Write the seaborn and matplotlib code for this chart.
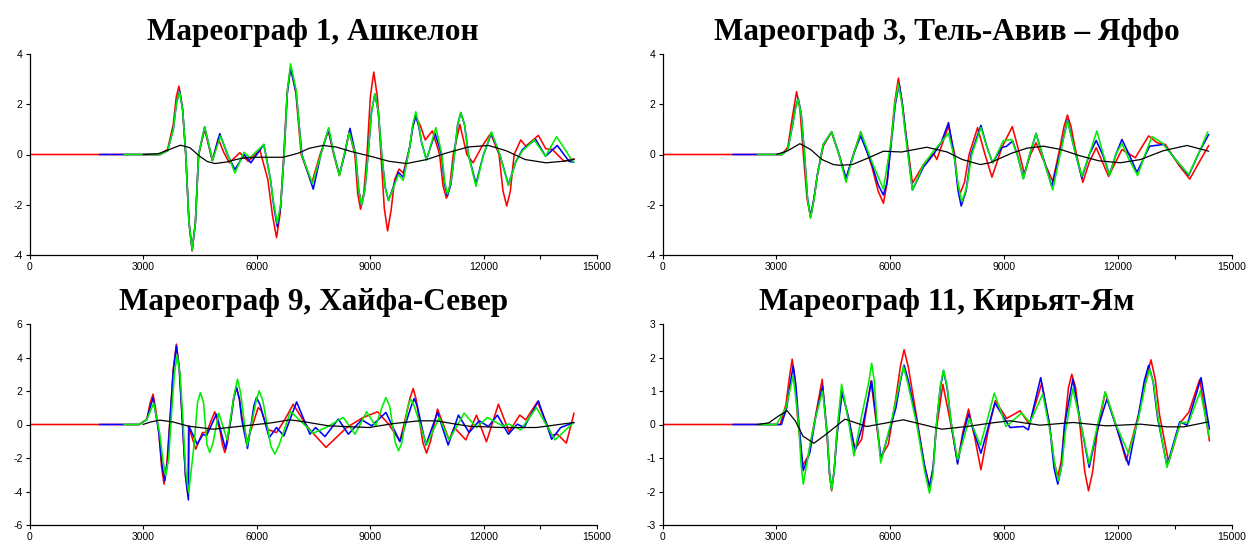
import matplotlib
matplotlib.use("Agg")
import matplotlib.pyplot as plt
import pandas as pd
import seaborn as sns
from matplotlib.ticker import MultipleLocator, FixedLocator

# ---------------------------------------------------------------------------
# Tide-gauge records: (time, s ; sea level, m) for each model run
# ---------------------------------------------------------------------------
TITLES = ["Мареограф 1, Ашкелон", "Мареограф 3, Тель-Авив – Яффо",
          "Мареограф 9, Хайфа-Север", "Мареограф 11, Кирьят-Ям"]
Y_LIMITS = [4, 4, 6, 3]
Y_STEPS = [2, 2, 2, 1]
X_TICKS = [0, 3000, 6000, 9000, 12000, 15000]
SERIES_COLORS = ["#ff0000", "#0000ff", "#00ee00", "#000000"]

# --- Ashkelon ---
ash_red = [(0, 0), (3450, 0), (3650, 0.2), (3800, 1.2), (3880, 2.3), (3950, 2.72), (4040, 1.9), (4130, 0),
           (4215, -2.7), (4300, -3.84), (4385, -2.7), (4470, 0),
           (4630, 1.0), (4830, -0.24), (4990, 0.63), (5130, 0.1), (5280, -0.33), (5560, 0.07), (5780, -0.27),
           (6090, 0.17), (6300, -1.0), (6420, -2.4), (6530, -3.31), (6625, -2.35), (6720, 0), (6810, 2.45),
           (6900, 3.48), (7040, 2.45), (7180, 0), (7460, -1.14),
           (7680, 0), (7900, 0.94), (8040, 0), (8190, -0.84), (8320, 0), (8450, 0.90), (8600, 0),
           (8675, -1.55), (8750, -2.18), (8835, -1.55),
           (8920, 0), (9010, 2.3), (9100, 3.28), (9195, 2.3), (9290, 0), (9378, -2.15), (9465, -3.04),
           (9560, -2.2), (9650, -1.0), (9770, -0.58), (9880, -0.74),
           (10050, 0.3), (10130, 1.1), (10210, 1.51), (10330, 1.15), (10460, 0.58), (10650, 0.94), (10840, 0),
           (10930, -1.25), (11020, -1.74), (11110, -1.25), (11200, 0),
           (11375, 1.20), (11560, 0), (11725, -0.33), (11950, 0.3), (12190, 0.84), (12410, 0),
           (12515, -1.45), (12615, -2.05), (12710, -1.45),
           (12810, 0), (12985, 0.58), (13115, 0.33), (13450, 0.76), (13645, 0.23), (13820, 0.2),
           (14130, -0.27), (14390, -0.17)]
ash_blue = [(1850, 0), (3450, 0), (3650, 0.15), (3800, 1.0), (3890, 2.1), (3970, 2.52), (4050, 1.75), (4130, 0),
            (4215, -2.7), (4300, -3.8), (4385, -2.7), (4470, 0),
            (4630, 1.1), (4836, -0.24), (5030, 0.83), (5230, 0), (5430, -0.60), (5670, 0.0), (5850, -0.33),
            (6195, 0.40), (6370, -1.0), (6460, -2.1), (6550, -2.88), (6640, -2.05), (6730, 0), (6815, 2.45),
            (6900, 3.44), (7050, 2.45), (7200, 0), (7500, -1.38),
            (7700, 0), (7900, 1.0), (8050, 0), (8190, -0.80), (8330, 0), (8470, 1.04), (8620, 0),
            (8700, -1.4), (8780, -2.0), (8865, -1.4),
            (8950, 0), (9040, 1.7), (9130, 2.41), (9220, 1.7), (9310, 0), (9400, -1.3), (9490, -1.83),
            (9600, -1.35), (9750, -0.71), (9880, -0.90), (10050, 0.3), (10130, 1.1),
            (10210, 1.54), (10290, 1.1), (10360, 0.5), (10490, -0.2), (10720, 0.84), (10890, 0), (10970, -1.17),
            (11050, -1.65), (11140, -1.17), (11230, 0), (11315, 1.18),
            (11400, 1.67), (11500, 1.18), (11600, 0), (11800, -1.16), (12000, 0), (12210, 0.84), (12430, 0),
            (12660, -1.20), (12850, -0.3), (13030, 0.2), (13380, 0.60), (13640, -0.07), (13950, 0.36),
            (14260, -0.27), (14390, -0.31)]
ash_green = [(2500, 0), (3450, 0), (3650, 0.15), (3800, 1.0), (3890, 2.1), (3970, 2.48), (4050, 1.75), (4130, 0),
             (4215, -2.7), (4300, -3.8), (4385, -2.7), (4470, 0),
             (4630, 1.1), (4836, -0.24), (5050, 0.74), (5240, 0), (5430, -0.74), (5670, 0.09), (5820, -0.13),
             (6195, 0.40), (6370, -1.0), (6460, -2.0), (6550, -2.74), (6640, -1.95), (6730, 0), (6815, 2.55),
             (6900, 3.61), (7050, 2.55), (7190, 0), (7480, -1.16),
             (7700, 0), (7910, 1.07), (8050, 0), (8190, -0.84), (8320, 0), (8450, 0.87), (8620, 0),
             (8700, -1.4), (8780, -2.0), (8865, -1.4),
             (8950, 0), (9040, 1.7), (9130, 2.41), (9220, 1.7), (9310, 0), (9400, -1.3), (9490, -1.83),
             (9600, -1.4), (9750, -0.80), (9880, -1.03), (10050, 0.3), (10130, 1.2),
             (10210, 1.70), (10290, 1.2), (10360, 0.5), (10490, -0.23), (10740, 1.07), (10900, 0),
             (10975, -1.1), (11050, -1.57), (11140, -1.1), (11230, 0), (11315, 1.18),
             (11400, 1.67), (11500, 1.18), (11600, 0), (11800, -1.27), (12000, 0), (12210, 0.90), (12430, 0),
             (12660, -1.24), (12850, -0.3), (13030, 0.15), (13340, 0.58), (13640, -0.07), (13930, 0.71),
             (14200, 0.1), (14350, -0.27), (14390, -0.31)]
ash_black = [(3000, 0), (3400, 0.03), (3700, 0.2), (3990, 0.37), (4240, 0.27), (4500, -0.07), (4700, -0.28),
             (4900, -0.36), (5200, -0.3), (5600, -0.15), (6000, -0.11), (6700, -0.11), (7100, 0.05),
             (7400, 0.25), (7750, 0.36), (8100, 0.3), (8500, 0.12), (9090, -0.1), (9500, -0.27), (9970, -0.36),
             (10500, -0.2), (11000, 0.05), (11600, 0.3), (12130, 0.36), (12600, 0.15), (13100, -0.2),
             (13650, -0.33), (14100, -0.27), (14400, -0.2)]

# --- Tel Aviv - Jaffa ---
tlv_red = [(0, 0), (3150, 0), (3300, 0.3), (3420, 1.5), (3530, 2.50), (3620, 1.8), (3710, 0), (3805, -1.75),
           (3900, -2.48), (3990, -1.75), (4080, -0.8),
           (4234, 0.33), (4454, 0.90), (4650, 0), (4833, -1.0), (5030, 0), (5221, 0.90), (5520, -0.5),
           (5680, -1.45), (5820, -1.94), (5910, -1.2), (6020, 0.5), (6120, 2.1), (6216, 3.04), (6310, 2.15),
           (6400, 1.0), (6586, -1.14), (6877, -0.4), (7141, 0.04),
           (7229, -0.2), (7538, 1.14), (7700, 0), (7770, -1.1), (7846, -1.54), (7960, -1.1), (8080, 0),
           (8304, 1.07), (8500, 0),
           (8683, -0.9), (8950, 0.3), (9220, 1.11), (9380, 0.2), (9537, -0.76), (9700, 0), (9846, 0.47),
           (10060, -0.3), (10286, -1.07), (10480, 0.3), (10580, 1.1), (10674, 1.57), (10770, 1.1),
           (10870, 0.3), (11079, -1.11),
           (11250, -0.3), (11432, 0.27), (11758, -0.87), (12110, 0.20), (12462, -0.13), (12815, 0.74),
           (13035, 0.47), (13255, 0.40), (13600, -0.4), (13898, -0.98), (14150, -0.3), (14400, 0.36)]
tlv_blue = [(1850, 0), (3150, 0), (3300, 0.2), (3440, 1.3), (3500, 1.85), (3573, 2.24), (3655, 1.6), (3740, 0),
            (3820, -1.75), (3900, -2.48), (3990, -1.75),
            (4080, -0.8), (4234, 0.4), (4454, 0.90), (4650, 0), (4833, -0.94), (5030, 0), (5221, 0.74),
            (5520, -0.4), (5680, -1.2), (5820, -1.61), (5920, -1.1), (6030, 0.5), (6135, 2.0), (6234, 2.81),
            (6320, 2.0), (6410, 0.8), (6586, -1.41), (6877, -0.5),
            (7141, 0.0), (7350, 0.5), (7538, 1.27), (7700, -0.2), (7790, -1.45), (7872, -2.05), (8000, -1.45),
            (8130, 0), (8392, 1.16),
            (8550, 0.3), (8700, -0.33), (8938, 0.27), (9070, 0.33), (9229, 0.54), (9370, -0.1), (9511, -0.94),
            (9680, 0), (9846, 0.84), (10050, -0.2), (10260, -1.27), (10470, 0), (10674, 1.38), (10860, 0.2),
            (11053, -0.94), (11250, 0), (11432, 0.56), (11600, 0), (11784, -0.80), (11950, 0), (12110, 0.60),
            (12300, 0), (12506, -0.71), (12841, 0.33), (13211, 0.40), (13564, -0.27), (13872, -0.83),
            (14150, 0.1), (14400, 0.80)]
tlv_green = [(2500, 0), (3150, 0), (3300, 0.2), (3440, 1.3), (3500, 1.8), (3573, 2.21), (3655, 1.55), (3740, 0),
             (3820, -1.8), (3900, -2.54), (3990, -1.8),
             (4080, -0.8), (4234, 0.4), (4454, 0.90), (4650, 0), (4833, -1.11), (5030, 0), (5221, 0.90),
             (5520, -0.3), (5820, -1.38), (6030, 0.6), (6120, 2.0), (6216, 2.81), (6310, 2.0), (6400, 0.8),
             (6586, -1.41), (6877, -0.4),
             (7141, 0.13), (7350, 0.5), (7538, 0.84), (7700, -0.2), (7800, -1.3), (7890, -1.87), (8020, -1.3),
             (8150, 0), (8392, 1.07),
             (8550, 0.3), (8701, -0.33), (8982, 0.54), (9203, 0.60), (9370, -0.1), (9511, -0.98), (9680, 0),
             (9846, 0.84), (10060, -0.3), (10286, -1.41), (10480, 0), (10674, 1.34), (10860, 0.2),
             (11053, -0.87), (11250, 0), (11449, 0.94), (11620, 0), (11784, -0.84), (11950, 0), (12110, 0.44),
             (12300, -0.2), (12524, -0.84), (12720, 0), (12903, 0.71), (13167, 0.47), (13564, -0.27),
             (13872, -0.80), (14150, 0.1), (14374, 0.90)]
tlv_black = [(3000, 0), (3300, 0.15), (3617, 0.43), (3900, 0.2), (4200, -0.2), (4500, -0.40), (4674, -0.43),
             (5000, -0.4), (5400, -0.15), (5820, 0.13), (6300, 0.1), (6965, 0.29), (7500, 0.1), (7900, -0.2),
             (8375, -0.40), (8630, -0.33), (9200, 0.05), (9600, 0.25), (10040, 0.33), (10500, 0.2),
             (11000, -0.05), (11500, -0.25), (12066, -0.33), (12600, -0.2), (13200, 0.15), (13828, 0.36),
             (14400, 0.13)]

# --- Haifa North ---
hfa_red = [(0, 0), (2900, 0), (3100, 0.3), (3190, 1.3), (3265, 1.81), (3330, 1.0), (3420, -0.5), (3490, -2.5),
           (3556, -3.56), (3630, -2.3), (3720, 0.5), (3800, 3.3),
           (3883, 4.80), (3960, 3.3), (4040, 0.2), (4120, -3.0), (4191, -4.26), (4205, -0.1), (4394, -1.47),
           (4571, -0.48), (4677, -0.48),
           (4897, 0.76), (5030, -0.3), (5100, -1.2), (5162, -1.67), (5230, -1.1), (5320, 0.3), (5400, 1.6),
           (5471, 2.21), (5550, 1.5), (5610, 0.5), (5753, -1.03),
           (6045, 1.01), (6130, 0.82), (6300, -0.3), (6530, -0.48), (6750, 0.3), (6971, 1.21), (7324, -0.08),
           (7836, -1.37), (8383, -0.18), (8800, 0.4), (9200, 0.76), (9500, 0), (9790, -0.98), (9950, 0.5),
           (10060, 1.6), (10142, 2.15), (10220, 1.5), (10300, 0.3), (10400, -1.1), (10494, -1.71),
           (10600, -1.0), (10784, 0.92), (11092, -0.92), (11224, -0.18),
           (11532, -0.92), (11814, 0.56), (12078, -1.03), (12394, 1.21), (12676, -0.44), (12958, 0.56),
           (13116, 0.28), (13424, 1.35), (13802, -0.64), (13952, -0.58), (14190, -1.11), (14392, 0.68)]
hfa_blue = [(1850, 0), (2900, 0), (3100, 0.3), (3265, 1.61), (3420, -0.5), (3500, -2.4), (3574, -3.36),
            (3650, -2.2), (3720, 0.5), (3800, 3.2),
            (3883, 4.70), (3960, 3.3), (4040, 0.2), (4125, -3.1), (4200, -4.50), (4215, -0.1), (4430, -1.17),
            (4589, -0.58), (4677, -0.68), (4942, 0.62), (5180, -1.47), (5320, 0.3), (5400, 1.6), (5471, 2.21),
            (5550, 1.5), (5610, 0.3), (5762, -1.43), (5930, 1.1),
            (6000, 1.61), (6090, 1.2), (6336, -0.78), (6530, -0.18), (6724, -0.68), (7060, 1.35), (7412, -0.58),
            (7562, -0.18), (7810, -0.72), (8162, 0.32), (8427, -0.58), (8780, 0.28), (9045, -0.08),
            (9420, 0.72), (9790, -1.03), (10090, 1.1), (10168, 1.55), (10250, 1.1), (10476, -1.23),
            (10784, 0.72), (11066, -1.23),
            (11338, 0.56), (11620, -0.48), (11884, 0.22), (12130, -0.12), (12368, 0.56), (12658, -0.58),
            (12896, 0.02), (13072, -0.18), (13450, 1.41), (13802, -0.88), (14040, -0.18), (14392, 0.12)]
hfa_green = [(2500, 0), (2900, 0), (3100, 0.3), (3283, 1.27), (3440, -0.5), (3530, -2.2), (3600, -3.06),
             (3680, -2.0), (3750, 0.5), (3830, 3.0),
             (3900, 4.14), (3980, 3.0), (4050, 0.5), (4130, -2.8), (4209, -4.06), (4360, -1.0), (4440, 1.3),
             (4518, 1.91), (4600, 1.3), (4690, -1.2), (4765, -1.67), (4850, -1.1), (5003, 0.68),
             (5224, -0.92), (5420, 1.9), (5497, 2.71), (5580, 1.9), (5753, -1.27), (5990, 1.4), (6071, 2.01),
             (6170, 1.4), (6380, -1.3), (6486, -1.77), (6600, -1.2), (6900, 0.78),
             (7500, -0.52), (7836, -0.18), (8295, 0.42), (8604, -0.58), (8912, 0.76), (9150, -0.1),
             (9330, 1.1), (9420, 1.61), (9520, 1.1), (9670, -1.1), (9754, -1.57), (9840, -1.1), (10000, 1.1),
             (10080, 1.51), (10170, 1.1), (10494, -1.23), (10828, 0.42), (11092, -0.92),
             (11488, 0.68), (11814, -0.18), (12104, 0.42), (12500, -0.08), (12676, 0.02), (12984, -0.32),
             (13398, 1.01), (13890, -0.92), (14366, 0.08)]
hfa_black = [(3000, 0), (3200, 0.15), (3441, 0.26), (3800, 0.15), (4200, -0.1), (4853, -0.28), (5400, -0.15),
             (6000, 0.0), (6400, 0.1), (6883, 0.28), (7300, 0.15), (7900, -0.08), (8980, -0.18), (9600, 0.05),
             (10300, 0.22), (10740, 0.22), (11600, -0.1), (12500, -0.18), (13400, -0.18), (14392, 0.12)]

# --- Kiryat Yam ---
kyam_red = [(0, 0), (3100, 0), (3250, 0.6), (3340, 1.4), (3415, 1.95), (3490, 1.3), (3550, 0.3),
            (3688, -1.23), (3837, -0.94),
            (4020, 0.2), (4207, 1.35), (4330, -0.3), (4400, -1.5), (4454, -1.98), (4520, -1.4), (4590, -0.3),
            (4718, 1.03), (4900, 0.2),
            (5071, -0.74), (5247, -0.44), (5494, 1.30), (5749, -0.99), (5952, -0.59), (6150, 0.8),
            (6270, 1.75), (6366, 2.23), (6480, 1.7),
            (6700, 0.2), (6900, -1.2), (7035, -1.85), (7130, -1.3), (7210, -0.2), (7388, 1.20), (7600, 0),
            (7776, -1.13), (7920, -0.2),
            (8066, 0.46), (8230, -0.4), (8392, -1.35), (8580, -0.2), (8771, 0.71), (9070, 0.18), (9423, 0.41),
            (9670, 0.01), (9996, 1.23), (10200, 0), (10320, -1.1), (10418, -1.55), (10510, -1.1), (10600, 0),
            (10700, 1.1), (10788, 1.50), (10890, 1.1), (11000, 0),
            (11130, -1.4), (11229, -1.98), (11340, -1.4), (11450, -0.3), (11669, 0.96), (11950, 0),
            (12224, -1.08), (12550, 0.3), (12760, 1.4),
            (12876, 1.93), (12990, 1.35), (13100, 0.3), (13343, -1.13), (13652, 0.06), (13872, 0.36),
            (14163, 1.35), (14418, -0.49)]
kyam_blue = [(1850, 0), (3130, 0), (3270, 0.5), (3360, 1.2), (3441, 1.75), (3510, 1.2), (3580, 0.2),
             (3705, -1.38), (3882, -0.83),
             (4030, 0.2), (4216, 1.15), (4340, -0.3), (4400, -1.45), (4454, -1.93), (4520, -1.4), (4600, -0.3),
             (4736, 0.96), (4900, 0.2),
             (5071, -0.79), (5280, 0), (5511, 1.30), (5758, -1.03), (5950, -0.3), (6150, 0.5), (6270, 1.3),
             (6366, 1.77), (6480, 1.3),
             (6700, 0.1), (6900, -1.2), (7035, -1.88), (7130, -1.3), (7210, -0.1), (7320, 1.1), (7406, 1.60),
             (7500, 1.1), (7600, 0.1), (7776, -1.18), (7920, -0.3),
             (8066, 0.31), (8230, -0.3), (8392, -0.86), (8580, -0.1), (8762, 0.64), (9159, -0.09),
             (9511, -0.06), (9643, -0.16), (9800, 0.6), (9969, 1.40), (10200, 0), (10320, -1.3),
             (10418, -1.78), (10510, -1.3), (10600, 0),
             (10815, 1.35), (11030, 0), (11247, -1.28), (11450, -0.2), (11714, 0.76), (12000, -0.2),
             (12286, -1.21), (12550, 0.3), (12700, 1.3), (12815, 1.77), (12930, 1.3), (13050, 0.2),
             (13299, -1.23), (13634, 0.08),
             (13828, -0.02), (14198, 1.40), (14418, -0.14)]
kyam_green = [(2500, 0), (3000, 0), (3250, 0.5), (3441, 1.45), (3580, 0.1), (3650, -1.2), (3705, -1.78),
              (3780, -1.3), (3899, -0.52),
              (4030, 0.2), (4216, 1.0), (4340, -0.3), (4400, -1.45), (4454, -1.95), (4520, -1.4), (4590, -0.3),
              (4718, 1.20), (4900, 0.1),
              (5044, -0.94), (5247, 0.26), (5440, 1.3), (5511, 1.83), (5580, 1.3), (5640, 0.2), (5749, -1.15),
              (6050, 0.2), (6250, 1.25), (6348, 1.73), (6460, 1.25),
              (6700, 0.0), (6900, -1.35), (7035, -2.05), (7130, -1.45), (7210, -0.1), (7320, 1.15),
              (7406, 1.63), (7500, 1.15), (7600, 0.1), (7776, -1.05), (8092, 0.18),
              (8375, -0.62), (8550, 0.1), (8745, 0.94), (9053, -0.06), (9467, 0.34), (9687, 0.06),
              (10022, 0.91), (10230, -0.3), (10340, -1.2), (10436, -1.68), (10530, -1.2), (10620, -0.2),
              (10815, 1.07), (11030, 0),
              (11247, -1.18), (11450, -0.1), (11669, 0.98), (11950, 0), (12286, -0.86), (12550, 0.2),
              (12730, 1.2), (12841, 1.65), (12950, 1.2), (13050, 0.3), (13299, -1.28), (13652, 0.06),
              (13872, 0.06), (14180, 1.0), (14418, -0.39)]
kyam_black = [(2500, 0), (2800, 0.05), (3050, 0.25), (3282, 0.41), (3500, 0.1), (3700, -0.35), (3987, -0.56),
              (4300, -0.3), (4806, 0.16), (5379, -0.06), (6348, 0.14), (7361, -0.14), (8022, -0.06),
              (8700, 0.05), (9159, 0.11), (9950, -0.02), (10830, 0.06), (11700, -0.04), (12600, 0.01),
              (13299, -0.07), (13740, -0.07), (14400, 0.08)]

PANEL_SERIES = [
    [ash_red, ash_blue, ash_green, ash_black],
    [tlv_red, tlv_blue, tlv_green, tlv_black],
    [hfa_red, hfa_blue, hfa_green, hfa_black],
    [kyam_red, kyam_blue, kyam_green, kyam_black],
]

# axes rectangles in figure fractions (left, bottom, width, height)
W, H = 1250, 546
def rect(x0, x1, y_top, y_bot):
    return [x0 / W, 1 - y_bot / H, (x1 - x0) / W, (y_bot - y_top) / H]

AX_RECTS = [rect(29.5, 597, 54, 255), rect(662.7, 1231.5, 54, 255),
            rect(29.5, 597, 324, 525), rect(662.7, 1231.5, 324, 525)]

sns.set_style("white")
plt.rcParams["font.family"] = ["Liberation Sans", "DejaVu Sans"]
plt.rcParams["axes.unicode_minus"] = False

fig = plt.figure(figsize=(W / 100, H / 100), dpi=100)

for i in range(4):
    ax = fig.add_axes(AX_RECTS[i])
    for pts, color in zip(PANEL_SERIES[i], SERIES_COLORS):
        df = pd.DataFrame(pts, columns=["t", "h"])
        sns.lineplot(data=df, x="t", y="h", ax=ax, color=color, sort=True,
                     estimator=None, linewidth=1.15 if color != "#000000" else 0.9)
    lim = Y_LIMITS[i]
    ax.set_xlim(0, 15000)
    ax.set_ylim(-lim, lim)
    ax.xaxis.set_major_locator(FixedLocator(X_TICKS))
    ax.xaxis.set_minor_locator(FixedLocator([13500]))
    ax.yaxis.set_major_locator(MultipleLocator(Y_STEPS[i]))
    ax.set_xlabel("")
    ax.set_ylabel("")
    for side in ("top", "right"):
        ax.spines[side].set_visible(False)
    for side in ("left", "bottom"):
        ax.spines[side].set_color("black")
        ax.spines[side].set_linewidth(0.9)
    ax.tick_params(axis="both", which="both", direction="out", length=3, width=0.8,
                   colors="black", labelsize=7.5, pad=2)
    ax.tick_params(axis="both", which="both", left=True, bottom=True)
    ax.set_title(TITLES[i], fontfamily="Liberation Serif", fontweight="bold",
                 fontsize=22.5, pad=10, color="black")

fig.savefig("out.png", dpi=100, facecolor="white")
